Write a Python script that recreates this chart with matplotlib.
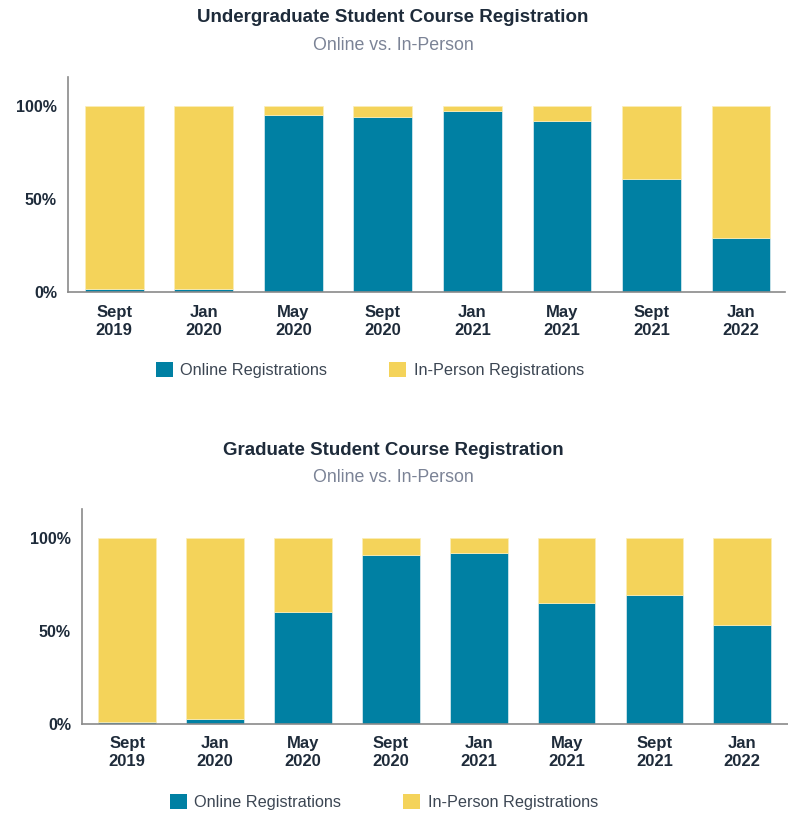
import matplotlib
matplotlib.use("Agg")
import matplotlib.pyplot as plt
from matplotlib.patches import Patch

# data (percent online; in-person is the rest)
terms = ['Sept\n2019', 'Jan\n2020', 'May\n2020', 'Sept\n2020',
         'Jan\n2021', 'May\n2021', 'Sept\n2021', 'Jan\n2022']
ug_online = [2, 2, 95, 94, 97, 92, 61, 29]
grad_online = [1, 2.5, 60, 91, 92, 65, 69, 53]
ug_inperson = [100 - v for v in ug_online]
grad_inperson = [100 - v for v in grad_online]
yticks = [0, 50, 100]
ytick_labels = ['0%', '50%', '100%']

BLUE = '#0080a3'
YELLOW = '#f4d35a'
DARK = '#1e2b3a'
GREY = '#7b8396'

plt.rcParams['font.family'] = ['Liberation Sans', 'DejaVu Sans']

W, H = 788, 813
fig = plt.figure(figsize=(W / 100, H / 100), dpi=100)


def panel(rect, online, inperson, title, title_y, legend_y, legend_x, xmax):
    ax = fig.add_axes([rect[0] / W, 1 - rect[3] / H,
                       (rect[2] - rect[0]) / W, (rect[3] - rect[1]) / H])
    x = range(len(terms))
    ax.bar(x, online, width=0.656, color=BLUE, edgecolor='#dfeef2', linewidth=0.5)
    ax.bar(x, inperson, bottom=online, width=0.656, color=YELLOW,
           edgecolor='#fbeeb8', linewidth=0.5)
    ax.set_xlim(-0.515, xmax)
    ax.set_ylim(0, 115.5)
    ax.set_xticks(list(x))
    ax.set_xticklabels(terms, fontsize=12, fontweight='bold', color=DARK,
                       linespacing=1.25)
    ax.set_yticks(yticks)
    ax.set_yticklabels(ytick_labels, fontsize=11.5, fontweight='bold', color=DARK)
    ax.tick_params(axis='both', length=0)
    ax.tick_params(axis='x', pad=9)
    ax.tick_params(axis='y', pad=8)
    for s in ['top', 'right']:
        ax.spines[s].set_visible(False)
    for s in ['left', 'bottom']:
        ax.spines[s].set_color('#8a8a8a')
        ax.spines[s].set_linewidth(1.2)

    fig.text(393 / W, 1 - title_y / H, title, ha='center', va='center',
             fontsize=13.5, fontweight='bold', color=DARK)
    fig.text(393 / W, 1 - (title_y + 27) / H, 'Online vs. In-Person',
             ha='center', va='center', fontsize=12.8, color=GREY)

    handles = [Patch(facecolor=BLUE, label='Online Registrations'),
               Patch(facecolor=YELLOW, label='In-Person Registrations')]
    fig.legend(handles=handles, loc='center', ncol=2,
               bbox_to_anchor=(legend_x / W, 1 - legend_y / H),
               frameon=False, fontsize=11.7, labelcolor='#3c4653',
               handlelength=1.05, handleheight=1.05, handletextpad=0.45,
               columnspacing=3.8)
    return ax


panel((68, 77, 785, 292.3), ug_online, ug_inperson,
      'Undergraduate Student Course Registration', 18, 370, 370, 7.49)
panel((82, 509, 788, 723.7), grad_online, grad_inperson,
      'Graduate Student Course Registration', 450, 802, 384, 7.52)

fig.savefig('out.png', dpi=100)
